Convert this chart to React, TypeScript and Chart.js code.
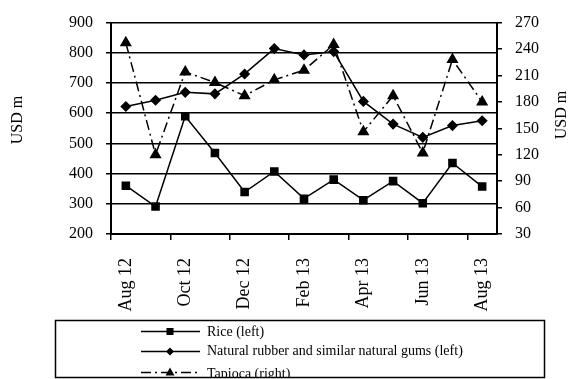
import React, { useEffect, useRef } from 'react';
import { Chart, registerables } from 'chart.js';
Chart.register(...registerables);

const months = ['Aug 12', 'Sep 12', 'Oct 12', 'Nov 12', 'Dec 12', 'Jan 13', 'Feb 13', 'Mar 13', 'Apr 13', 'May 13', 'Jun 13', 'Jul 13', 'Aug 13'];
const rice = [360, 291, 590, 468, 339, 407, 317, 380, 312, 375, 302, 435, 357];
const rubber = [622, 643, 669, 664, 730, 814, 793, 804, 639, 564, 520, 559, 575];
const tapioca = [247, 120, 214, 202, 187, 205, 216, 245, 146, 187, 122, 228, 180];
const seriesNames = ['Rice (left)', 'Natural rubber and similar natural gums (left)', 'Tapioca (right)'];
const axisTitle = 'USD m';

const FONT = "'Liberation Serif', 'Times New Roman', serif";
const TAPIOCA_DASH = [10, 4, 2, 4];

const boxLegend = {
  id: 'boxLegend',
  afterDraw(chart: any) {
    const ctx = chart.ctx;
    ctx.save();
    // axis titles, reading bottom to top
    const drawTitle = (x: number, y: number) => {
      ctx.save();
      ctx.translate(x, y);
      ctx.rotate(-Math.PI / 2);
      ctx.font = `16px ${FONT}`;
      ctx.fillStyle = '#000';
      ctx.textAlign = 'center';
      ctx.textBaseline = 'middle';
      ctx.fillText(axisTitle, 0, 0);
      ctx.restore();
    };
    drawTitle(18, 120);
    drawTitle(562, 115);

    const styles = [
      { dash: [], shape: 'rect' },
      { dash: [], shape: 'diamond' },
      { dash: TAPIOCA_DASH, shape: 'tri' },
    ];
    const lineYs = [331.5, 351.5, 372.5];
    const textYs = [332, 351.5, 374];
    chart.data.datasets.forEach((ds: any, i: number) => {
      const y = lineYs[i];
      ctx.beginPath();
      ctx.setLineDash(styles[i].dash);
      ctx.lineWidth = 1.5;
      ctx.strokeStyle = '#000';
      ctx.moveTo(141, y);
      ctx.lineTo(200, y);
      ctx.stroke();
      ctx.setLineDash([]);
      ctx.fillStyle = '#000';
      const cx = 170;
      if (styles[i].shape === 'rect') {
        ctx.fillRect(cx - 3.5, y - 3.5, 7, 7);
      } else if (styles[i].shape === 'diamond') {
        ctx.beginPath();
        ctx.moveTo(cx, y - 4);
        ctx.lineTo(cx + 4, y);
        ctx.lineTo(cx, y + 4);
        ctx.lineTo(cx - 4, y);
        ctx.closePath();
        ctx.fill();
      } else {
        ctx.beginPath();
        ctx.moveTo(cx, y - 5);
        ctx.lineTo(cx + 4.5, y + 3);
        ctx.lineTo(cx - 4.5, y + 3);
        ctx.closePath();
        ctx.fill();
      }
      ctx.font = `14px ${FONT}`;
      ctx.textBaseline = 'middle';
      ctx.textAlign = 'left';
      ctx.fillText(ds.label, 207, textYs[i]);
    });
    ctx.fillStyle = '#fff';
    ctx.fillRect(0, 378, 569, 2);
    ctx.strokeStyle = '#000';
    ctx.lineWidth = 1.5;
    ctx.strokeRect(55.5, 320.5, 489, 57);
    ctx.restore();
  },
};

export default function App() {
  const ref = useRef<HTMLCanvasElement>(null);
  useEffect(() => {
    document.body.style.margin = '0';
    const chart = new Chart(ref.current!, {
      type: 'line',
      data: {
        labels: months,
        datasets: [
          {
            label: seriesNames[0],
            data: rice,
            yAxisID: 'y',
            borderColor: '#000',
            backgroundColor: '#000',
            borderWidth: 1.5,
            pointStyle: 'rect',
            pointRadius: 5,
            tension: 0,
          },
          {
            label: seriesNames[1],
            data: rubber,
            yAxisID: 'y',
            borderColor: '#000',
            backgroundColor: '#000',
            borderWidth: 1.5,
            pointStyle: 'rectRot',
            pointRadius: 4.5,
            tension: 0,
          },
          {
            label: seriesNames[2],
            data: tapioca,
            yAxisID: 'y1',
            borderColor: '#000',
            backgroundColor: '#000',
            borderWidth: 1.5,
            borderDash: TAPIOCA_DASH,
            pointStyle: 'triangle',
            pointRadius: 5.5,
            tension: 0,
          },
        ],
      },
      options: {
        animation: false,
        responsive: false,
        devicePixelRatio: 1,
        layout: { padding: { top: 11, bottom: 60, left: 0, right: 0 } },
        plugins: { legend: { display: false }, tooltip: { enabled: false } },
        scales: {
          x: {
            offset: true,
            afterFit: (s: any) => { s.height = 85; },
            border: { color: '#000', width: 2 },
            grid: {
              offset: true,
              drawOnChartArea: false,
              drawTicks: true,
              tickLength: 6,
              lineWidth: 1.5,
              color: (c: any) => (c.index % 2 === 0 ? '#000' : 'rgba(0,0,0,0)'),
            },
            ticks: {
              autoSkip: false,
              minRotation: 90,
              maxRotation: 90,
              padding: 18,
              color: '#000',
              font: { family: FONT, size: 18 },
              callback: (_v: any, i: number) => (i % 2 === 0 ? months[i] : ''),
            },
          },
          y: {
            position: 'left',
            min: 200,
            max: 900,
            afterFit: (s: any) => { s.width = 111; },
            border: { color: '#000', width: 2 },
            grid: { color: '#000', lineWidth: 1.5, tickLength: 5 },
            ticks: {
              stepSize: 100,
              padding: 13,
              color: '#000',
              font: { family: FONT, size: 16 },
            },
          },
          y1: {
            position: 'right',
            min: 30,
            max: 270,
            afterFit: (s: any) => { s.width = 72; },
            border: { color: '#000', width: 2 },
            grid: { drawOnChartArea: false, color: '#000', lineWidth: 1.5, tickLength: 5 },
            ticks: {
              stepSize: 30,
              padding: 13,
              color: '#000',
              font: { family: FONT, size: 16 },
            },
          },
        },
      },
      plugins: [boxLegend],
    });
    return () => chart.destroy();
  }, []);
  return (
    <div style={{ position: 'fixed', left: 0, top: 0, width: 569, height: 379, background: '#fff' }}>
      <canvas ref={ref} width={569} height={379} style={{ width: 569, height: 379, display: 'block' }} />
    </div>
  );
}
